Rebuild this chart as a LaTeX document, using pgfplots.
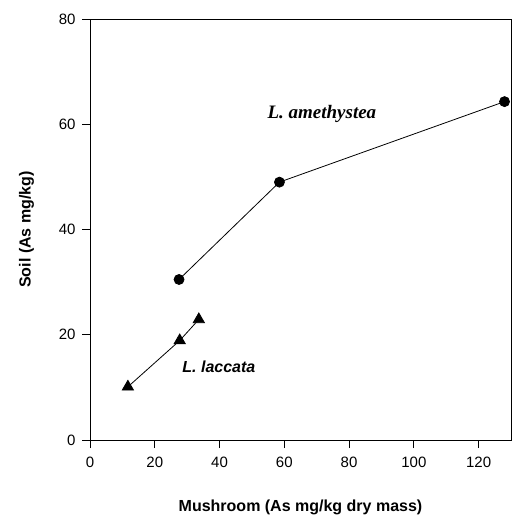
\documentclass[border=0pt]{standalone}
\usepackage{pgfplots}
\pgfplotsset{compat=1.18}
\usepackage{fontspec}
\setmainfont{Liberation Sans}
\newfontfamily\serifbi{Liberation Serif}
\begin{document}
\begin{tikzpicture}
\begin{axis}[
  at={(0,0)}, anchor=south west,
  scale only axis, width=421pt, height=421pt,
  xmin=0, xmax=130, ymin=0, ymax=80,
  xtick={0,20,40,60,80,100,120},
  ytick={0,20,40,60,80},
  tick align=outside, tick pos=left,
  major tick length=8pt,
  tick style={black, line width=0.9pt},
  axis line style={line width=0.9pt},
  /pgf/number format/assume math mode=true,
  ticklabel style={font=\fontsize{15}{17}\selectfont},
  xticklabel style={yshift=-5pt},
  yticklabel style={xshift=-3pt},
  xlabel={\textbf{Mushroom (As mg/kg dry mass)}},
  ylabel={\textbf{Soil (As mg/kg)}},
  label style={font=\fontsize{16}{18}\selectfont},
  xlabel style={yshift=-26pt},
  ylabel style={yshift=18pt},
]
\addplot[black, line width=0.8pt, mark=*, mark size=5pt] coordinates {
  (27.5,30.5) (58.5,49) (128,64.3)
};
\addplot[black, line width=0.8pt, mark=triangle*, mark size=6.5pt] coordinates {
  (11.7,10.1) (27.7,18.9) (33.6,22.9)
};
\node at (axis cs:71.6,62) {\fontsize{19}{21}\selectfont\serifbi\bfseries\itshape L. amethystea};
\node at (axis cs:39.8,13.9) {\fontsize{16}{18}\selectfont\bfseries\itshape L. laccata};
\end{axis}
\useasboundingbox (-90pt,-81pt) rectangle (425pt,440pt);
\end{tikzpicture}
\end{document}
